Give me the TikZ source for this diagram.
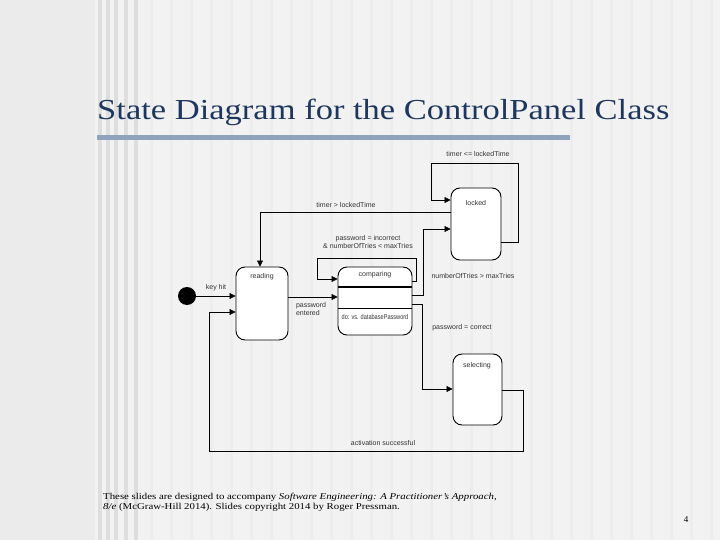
\documentclass[tikz,border=0pt]{standalone}
\usepackage{fontspec}
\setmainfont{Liberation Serif}
\setsansfont{Liberation Sans}
\usetikzlibrary{arrows.meta}
\definecolor{titlec}{RGB}{30,55,95}
\definecolor{barc}{RGB}{143,163,189}
\begin{document}
\begin{tikzpicture}[x=1pt,y=-1pt,
  st/.style={draw,line width=0.9pt,rounded corners=9pt,fill=white,inner sep=0pt},
  lbl/.style={font=\sffamily\fontsize{7}{8}\selectfont,text=black!80,inner sep=1pt,align=center},
  tr/.style={line width=0.6pt,-{Triangle[length=6pt,width=6pt]}}]
\useasboundingbox (0,0) rectangle (720,540);
\fill[black!8] (0,0) rectangle (720,540);
\fill[black!5] (95,0) rectangle (720,540);
\foreach \x in {98,106,114,124,134} \fill[black!13] (\x,0) rectangle (\x+4,540);
\foreach \x in {150,170,...,710} \fill[black!7] (\x,0) rectangle (\x+3,540);
\node[anchor=base west,inner sep=0pt,text=titlec,font=\fontsize{29}{32}\selectfont,xscale=1.19,transform shape] (title) at (97,120) {State Diagram for the ControlPanel Class};
\fill[barc] (97,135) rectangle (570,140);
% states
\fill (187,296) circle (9);
\coordinate (init) at (196,296);
\node[st,minimum width=52pt,minimum height=73pt] (reading) at (262,303.5) {};
\node[lbl,anchor=north] at (reading.north) [yshift=-6pt] {reading};
\node[st,minimum width=74pt,minimum height=68pt] (comparing) at (375,301) {};
\draw[line width=1.2pt] (338,287) -- (412,287);
\draw[line width=0.6pt] (338,308) -- (412,308);
\node[lbl] at (375,275) {comparing};
\node[lbl,xscale=0.8,transform shape] at (375,317) {do: vs. databasePassword};
\node[st,minimum width=50pt,minimum height=72pt] (locked) at (476,224) {};
\node[lbl] at (476,203) {locked};
\node[st,minimum width=49pt,minimum height=71pt] (selecting) at (477.5,389.5) {};
\node[lbl] at (477,366) {selecting};
% transitions
\draw[tr] (init) -- (reading.west |- 0,296);
\node[lbl] at (216,288) {key hit};
\draw[tr] (selecting.east |- 0,390) -- (523,390) -- (523,451) -- (209,451) -- (209,312) -- (reading.west |- 0,312);
\node[lbl] at (383,443) {activation successful};
\draw[tr] (reading.east |- 0,297) -- (comparing.west |- 0,297);
\node[lbl,align=left] at (311,309) {password\\entered};
\draw[tr] (comparing.east |- 0,281) -- (416,281) -- (416,258) -- (317,258) -- (317,279) -- (comparing.west |- 0,279);
\node[lbl] at (368,242) {password = incorrect\\\& numberOfTries < maxTries};
\draw[tr] (comparing.east |- 0,295) -- (423,295) -- (423,229) -- (locked.west |- 0,229);
\node[lbl] at (473,276) {numberOfTries > maxTries};
\draw[tr] (comparing.east |- 0,304) -- (422,304) -- (422,389) -- (selecting.west |- 0,389);
\node[lbl] at (462,328) {password = correct};
\draw[tr] (locked.west |- 0,212) -- (260,212) -- (reading.north -| 260,0);
\node[lbl] at (346,205) {timer > lockedTime};
\draw[tr] (locked.east |- 0,242) -- (518,242) -- (518,163) -- (431,163) -- (431,200) -- (locked.west |- 0,200);
\node[lbl] at (478,154) {timer <= lockedTime};
% footer
\node[anchor=base west,inner sep=0pt,align=left,font=\fontsize{9}{10}\selectfont,xscale=1.2,transform shape] (foot) at (103,509) {These slides are designed to accompany \textit{Software Engineering: A Practitioner's Approach,}\\\textit{8/e} (McGraw-Hill 2014). Slides copyright 2014 by Roger Pressman.};
\node[anchor=base,inner sep=0pt,font=\fontsize{9}{10}\selectfont] (page) at (686,522) {4};
\end{tikzpicture}
\end{document}
